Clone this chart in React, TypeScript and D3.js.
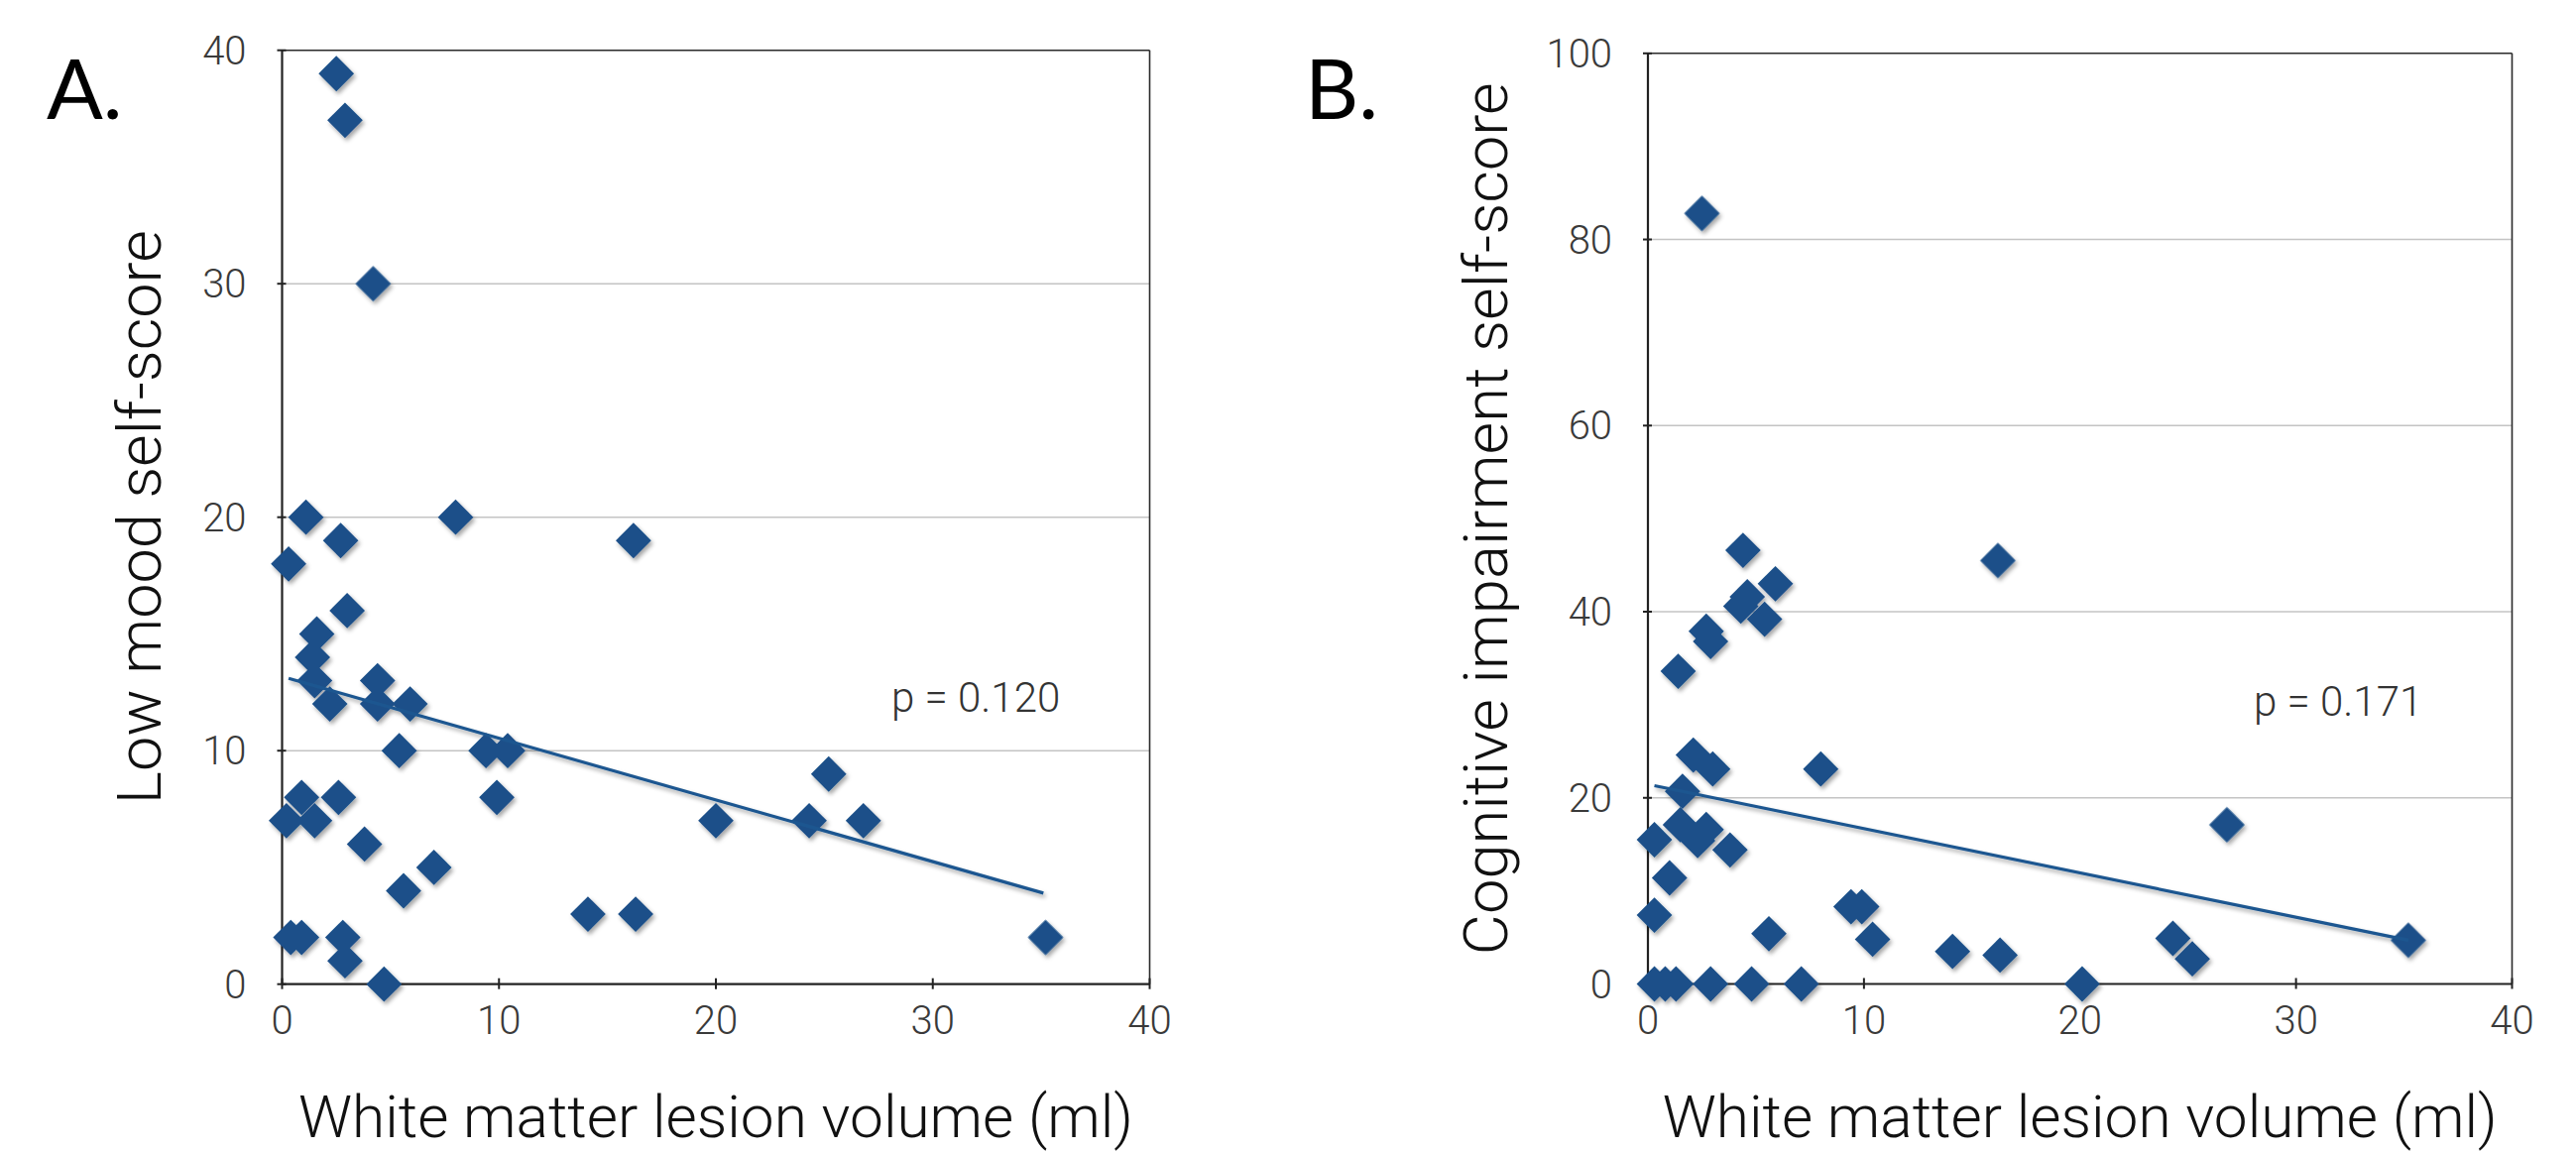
import React from "react";
import * as d3 from "d3";

// ---------- data ----------
// Panel A: white matter lesion volume (ml) vs low mood self-score
const volumeA = [2.5, 2.9, 4.2, 1.1, 8.0, 2.7, 16.2, 0.3, 3.0, 1.6, 1.4, 1.5, 4.4, 2.2, 4.4, 5.9, 5.4, 9.4, 10.4, 25.2, 0.9, 2.6, 9.9, 0.2, 1.5, 20.0, 24.3, 26.8, 3.8, 7.0, 5.6, 14.1, 16.3, 0.4, 0.9, 2.8, 2.9, 4.7, 35.2];
const moodA = [39, 37, 30, 20, 20, 19, 19, 18, 16, 15, 14, 13, 13, 12, 12, 12, 10, 10, 10, 9, 8, 8, 8, 7, 7, 7, 7, 7, 6, 5, 4, 3, 3, 2, 2, 2, 1, 0, 2];
const trendA = [[0.3, 13.1], [35.1, 3.9]];

// Panel B: white matter lesion volume (ml) vs cognitive impairment self-score
const volumeB = [0.3, 0.8, 1.3, 2.9, 4.8, 7.1, 20.1, 0.3, 1.0, 0.3, 1.5, 2.3, 2.7, 3.8, 1.6, 2.1, 3.0, 8.0, 1.4, 2.7, 2.9, 4.3, 4.6, 5.4, 5.9, 4.4, 16.2, 2.5, 5.6, 9.4, 9.9, 10.4, 14.1, 16.3, 24.3, 25.2, 26.8, 35.2];
const cogB = [0, 0, 0, 0, 0, 0, 0, 7.4, 11.4, 15.5, 17.1, 15.4, 16.6, 14.4, 20.7, 24.6, 23.1, 23.1, 33.6, 37.9, 36.8, 40.6, 41.6, 39.2, 43.0, 46.6, 45.5, 82.8, 5.4, 8.3, 8.3, 4.8, 3.5, 3.1, 4.9, 2.7, 17.1, 4.7];
const trendB = [[0.3, 21.3], [35.2, 4.7]];

const xTicks = [0, 10, 20, 30, 40];
const yTicksA = [0, 10, 20, 30, 40];
const yTicksB = [0, 20, 40, 60, 80, 100];

const pTextA = "p = 0.120";
const pTextB = "p = 0.171";
const xTitle = "White matter lesion volume (ml)";
const yTitleA = "Low mood self-score";
const yTitleB = "Cognitive impairment self-score";

// ---------- styles ----------
const MARK = "#1b5089";
const LINE = "#1d5790";
const TICKFONT = "Roboto, 'Liberation Sans', sans-serif";

type PanelProps = {
  id: string;
  label: string;
  labelX: number;
  xs: number[];
  ys: number[];
  trend: number[][];
  yTicks: number[];
  yMax: number;
  xRange: [number, number];
  yRange: [number, number];
  pText: string;
  pPos: [number, number];
  yTitle: string;
  yTitleX: number;
  yTitleLen: number;
};

function Panel(p: PanelProps) {
  const x = d3.scaleLinear().domain([0, 40]).range(p.xRange);
  const y = d3.scaleLinear().domain([0, p.yMax]).range(p.yRange);
  const [x0, x1] = p.xRange;
  const [y0, y1] = p.yRange;
  const diamond = d3.symbol().type(d3.symbolSquare).size(640)();
  const line = d3.line<number[]>().x((d) => x(d[0])).y((d) => y(d[1]));
  const cy = (y0 + y1) / 2;
  return (
    <g>
      <text x={p.labelX} y={120} fontFamily="Lato, 'Open Sans', sans-serif" fontSize={84} fill="#000">
        {p.label}
      </text>
      {/* gridlines */}
      {p.yTicks.filter((t) => t > 0 && t < p.yMax).map((t) => (
        <line key={"g" + t} x1={x0} x2={x1} y1={y(t)} y2={y(t)} stroke="#c4c4c4" strokeWidth={1.6} />
      ))}
      {/* frame */}
      <line x1={x0} x2={x1} y1={y1} y2={y1} stroke="#2a2a2a" strokeWidth={1.6} />
      <line x1={x1} x2={x1} y1={y1} y2={y0} stroke="#2a2a2a" strokeWidth={1.6} />
      <line x1={x0} x2={x0} y1={y1} y2={y0} stroke="#222" strokeWidth={2.2} />
      <line x1={x0} x2={x1} y1={y0} y2={y0} stroke="#222" strokeWidth={2.2} />
      {/* ticks */}
      {p.yTicks.map((t) => (
        <line key={"yt" + t} x1={x0 - 5} x2={x0 + 4} y1={y(t)} y2={y(t)} stroke="#222" strokeWidth={2} />
      ))}
      {xTicks.map((t) => (
        <line key={"xt" + t} x1={x(t)} x2={x(t)} y1={y0 - 6} y2={y0 + 5} stroke="#222" strokeWidth={2} />
      ))}
      {/* tick labels */}
      {p.yTicks.map((t) => (
        <text key={"yl" + t} x={x0 - 36} y={y(t) + 14} textAnchor="end" fontFamily={TICKFONT} fontWeight={300} fontSize={40} fill="#3a3a3a">
          {t}
        </text>
      ))}
      {xTicks.map((t) => (
        <text key={"xl" + t} x={x(t)} y={y0 + 50} textAnchor="middle" fontFamily={TICKFONT} fontWeight={300} fontSize={40} fill="#3a3a3a">
          {t}
        </text>
      ))}
      {/* titles */}
      <text x={x(20)} y={1147} textAnchor="middle" fontFamily={TICKFONT} fontWeight={300} fontSize={60} fill="#111" textLength={842} lengthAdjust="spacingAndGlyphs">
        {xTitle}
      </text>
      <text transform={`translate(${p.yTitleX},${cy}) rotate(-90)`} textAnchor="middle" fontFamily={TICKFONT} fontWeight={300} fontSize={62} fill="#111" textLength={p.yTitleLen} lengthAdjust="spacingAndGlyphs">
        {p.yTitle}
      </text>
      {/* p-value */}
      <text x={p.pPos[0]} y={p.pPos[1]} fontFamily={TICKFONT} fontWeight={300} fontSize={42} fill="#333">
        {p.pText}
      </text>
      {/* points */}
      <g filter={`url(#shadow${p.id})`}>
        {p.xs.map((v, i) => (
          <path key={i} d={diamond as string} transform={`translate(${x(v)},${y(p.ys[i])}) rotate(45)`} fill={MARK} />
        ))}
        <path d={line(p.trend) as string} stroke={LINE} strokeWidth={3.2} fill="none" />
      </g>
    </g>
  );
}

export default function App() {
  return (
    <svg width={2598} height={1162} style={{ position: "absolute", left: 0, top: 0, background: "#fff" }}>
      <defs>
        {["A", "B"].map((id) => (
          <filter key={id} id={"shadow" + id} x="-10%" y="-10%" width="130%" height="130%">
            <feDropShadow dx={2} dy={3} stdDeviation={2.2} floodColor="#000" floodOpacity={0.35} />
          </filter>
        ))}
      </defs>
      <rect width={2598} height={1162} fill="#fff" />
      <Panel
        id="A"
        label="A."
        labelX={47}
        xs={volumeA}
        ys={moodA}
        trend={trendA}
        yTicks={yTicksA}
        yMax={40}
        xRange={[284.5, 1159.5]}
        yRange={[992.7, 50.7]}
        pText={pTextA}
        pPos={[899, 718]}
        yTitle={yTitleA}
        yTitleX={162}
        yTitleLen={579}
      />
      <Panel
        id="B"
        label="B."
        labelX={1316}
        xs={volumeB}
        ys={cogB}
        trend={trendB}
        yTicks={yTicksB}
        yMax={100}
        xRange={[1662, 2533.5]}
        yRange={[992.5, 53.8]}
        pText={pTextB}
        pPos={[2273, 722]}
        yTitle={yTitleB}
        yTitleX={1520}
        yTitleLen={880}
      />
    </svg>
  );
}
